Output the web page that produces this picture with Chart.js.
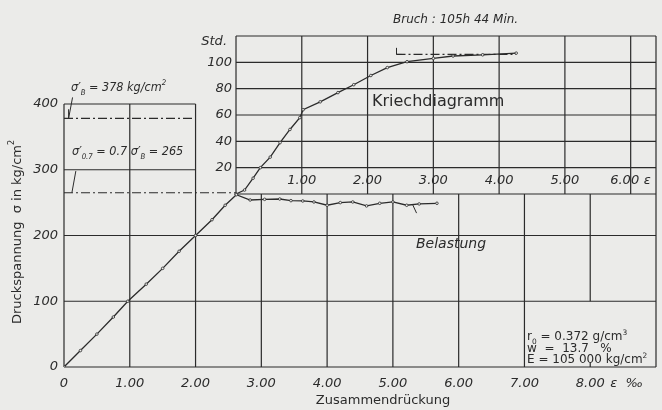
<!DOCTYPE html>
<html>
<head>
<meta charset="utf-8">
<script src="https://cdn.jsdelivr.net/npm/chart.js@4.4.1/dist/chart.umd.min.js"></script>
<style>
html, body { margin: 0; padding: 0; background: #ebebe9; }
#wrap { width: 662px; height: 410px; }
</style>
</head>
<body>
<div id="wrap"><canvas id="c" width="662" height="410"></canvas></div>
<script>
// Belastung: Zusammendrueckung (permille) / Druckspannung (kg/cm2)
const loadEps   = [0, 0.25, 0.5, 0.75, 0.97, 1.25, 1.5, 1.75, 2.0, 2.25, 2.45, 2.62, 2.83, 3.05, 3.28, 3.45, 3.63, 3.8, 4.0, 4.2, 4.39, 4.6, 4.8, 5.0, 5.21, 5.4, 5.67];
const loadSigma = [0, 25, 50, 76, 100, 126, 150, 176, 200, 224, 246, 262, 254, 255, 255.5, 253, 252.5, 251, 246, 250, 251, 245, 249, 251, 246, 248, 249];

// Kriechdiagramm: zusaetzliche Zusammendrueckung (permille) / Stunden
const creepEps   = [0, 0.13, 0.26, 0.37, 0.52, 0.67, 0.82, 0.97, 1.02, 1.28, 1.55, 1.79, 2.05, 2.3, 2.6, 3.0, 3.3, 3.75, 4.26];
const creepHours = [0, 3, 12, 20, 28, 39, 49, 58, 64, 70, 77, 83, 90, 96, 100.5, 103, 104.8, 105.7, 107];

const sigmaB = 378;
const sigma07 = 265;
const breakHours = 106;

const mainXTicks = [0, 1, 2, 3, 4, 5, 6, 7, 8];
const mainYTicks = [0, 100, 200, 300, 400];
const insetXTicks = [1, 2, 3, 4, 5, 6];
const insetYTicks = [20, 40, 60, 80, 100];

const INK = '#2b2b2b';
const PAPER = '#ebebe9';
const FONT = "'DejaVu Sans', sans-serif";
const FONT_C = "'DejaVu Sans Condensed', 'DejaVu Sans', sans-serif";

function pts(xs, ys) { return xs.map((x, i) => ({x: x, y: ys[i]})); }

// draw a line between two data points of a given pair of scales
function seg(ctx, sx, sy, x0, y0, x1, y1) {
    ctx.beginPath();
    ctx.moveTo(sx.getPixelForValue(x0), sy.getPixelForValue(y0));
    ctx.lineTo(sx.getPixelForValue(x1), sy.getPixelForValue(y1));
    ctx.stroke();
}

// rich text: parts = [[text, 'n'|'sub'|'sup'], ...]
function rich(ctx, parts, x, y, size, style, family) {
    let cx = x;
    for (const [t, kind] of parts) {
        const s = kind === 'n' ? size : size * 0.62;
        const dy = kind === 'sub' ? size * 0.3 : (kind === 'sup' ? -size * 0.45 : 0);
        ctx.font = (style || 'italic') + ' ' + s + 'px ' + (family || FONT);
        ctx.fillText(t, cx, y + dy);
        cx += ctx.measureText(t).width;
    }
}

const gridPlugin = {
    id: 'grid',
    beforeDatasetsDraw(chart) {
        const ctx = chart.ctx;
        const x = chart.scales.x, y = chart.scales.y;
        const x2 = chart.scales.x2, y2 = chart.scales.y2;
        const sigTop = y.getValueForPixel(y2.getPixelForValue(0));
        const epsEnd = x2.max;
        ctx.save();
        ctx.strokeStyle = INK;
        ctx.lineWidth = 1.2;
        // main diagram
        for (const e of [0, 1, 2]) seg(ctx, x, y, e, 0, e, 400);
        for (const e of [3, 4, 5, 6, 7]) seg(ctx, x, y, e, 0, e, sigTop);
        seg(ctx, x, y, 8, 100, 8, sigTop);
        seg(ctx, x, y, 8, 0, 8, 7);
        seg(ctx, x, y, 9, 0, 9, sigTop);
        for (const s of [0, 100, 200]) seg(ctx, x, y, 0, s, 9, s);
        for (const s of [300, 400]) seg(ctx, x, y, 0, s, 2, s);
        // inset (Kriechdiagramm)
        for (const e of [0, 1, 2, 3, 4, 5, 6, epsEnd]) seg(ctx, x2, y2, e, 0, e, 120);
        for (const h of [0, 20, 40, 60, 80, 100, 120]) seg(ctx, x2, y2, 0, h, epsEnd, h);
        ctx.restore();
    },
    afterDatasetsDraw(chart) {
        const ctx = chart.ctx;
        const x = chart.scales.x, y = chart.scales.y;
        const x2 = chart.scales.x2, y2 = chart.scales.y2;
        ctx.save();
        ctx.fillStyle = INK;
        ctx.strokeStyle = INK;
        ctx.lineWidth = 1;

        // main tick labels
        ctx.font = 'italic 13px ' + FONT;
        ctx.textBaseline = 'middle';
        ctx.textAlign = 'center';
        for (const t of mainXTicks) {
            ctx.fillText(t === 0 ? '0' : t.toFixed(2), x.getPixelForValue(t), 384);
        }
        ctx.textAlign = 'left';
        ctx.fillText('\u03b5  \u2030', x.getPixelForValue(8) + 20, 384);
        ctx.textAlign = 'right';
        for (const t of mainYTicks) {
            ctx.fillText(String(t), 58, y.getPixelForValue(t));
        }

        // inset tick labels
        ctx.textAlign = 'center';
        const iy = y2.getPixelForValue(0) - 13;
        for (const t of insetXTicks) {
            const px = x2.getPixelForValue(t) - (t === 6 ? 6 : 0);
            ctx.fillText(t.toFixed(2), px, iy);
        }
        ctx.textAlign = 'left';
        ctx.fillText('\u03b5', x2.getPixelForValue(6) + 13, iy);
        ctx.textAlign = 'right';
        for (const t of insetYTicks) {
            ctx.fillText(String(t), x2.getPixelForValue(0) - 4, y2.getPixelForValue(t));
        }
        ctx.fillText('Std.', x2.getPixelForValue(0) - 9, y2.getPixelForValue(116));

        // axis titles
        ctx.textAlign = 'center';
        ctx.font = '13px ' + FONT;
        ctx.fillText('Zusammendr\u00fcckung', 383, 401);
        ctx.save();
        ctx.translate(18, 232);
        ctx.rotate(-Math.PI / 2);
        ctx.textAlign = 'left';
        ctx.textBaseline = 'middle';
        const ttl = [['Druckspannung  \u03c3 in kg/cm', 'n'], ['2', 'sup']];
        ctx.font = '13px ' + FONT;
        let w = ctx.measureText(ttl[0][0]).width + 5;
        rich(ctx, ttl, -w / 2, 0, 13, 'normal');
        ctx.restore();

        // sigma_B annotation
        ctx.textAlign = 'left';
        ctx.textBaseline = 'alphabetic';
        rich(ctx, [['\u03c3\u2032', 'n'], ['B', 'sub'], [' = 378 kg/cm', 'n'], ['2', 'sup']], 71, 91, 12.5, 'italic', FONT_C);
        seg(ctx, x, y, 0.07, sigmaB, 0.13, 410);
        seg(ctx, x, y, 0.07, sigmaB, 0.07, 392);
        // sigma_0.7 annotation
        rich(ctx, [['\u03c3\u2032', 'n'], ['0.7', 'sub'], [' = 0.7 \u03c3\u2032', 'n'], ['B', 'sub'], [' = 265', 'n']], 72, 155, 12.5, 'italic', FONT_C);
        seg(ctx, x, y, 0.12, sigma07, 0.18, 298);

        // Bruch
        ctx.font = 'italic 12px ' + FONT;
        ctx.fillText('Bruch : 105h 44 Min.', 393, 23);
        seg(ctx, x2, y2, 2.44, breakHours, 2.44, 111);
        seg(ctx, x2, y2, 2.44, breakHours, 2.52, breakHours);

        // Kriechdiagramm label
        ctx.font = '16px ' + FONT;
        ctx.fillText('Kriechdiagramm', 372, 106);

        // Belastung
        ctx.font = 'italic 14px ' + FONT;
        ctx.fillText('Belastung', 416, 248);
        seg(ctx, x, y, 5.3, 247, 5.36, 234);

        // material data
        rich(ctx, [['r', 'n'], ['0', 'sub'], [' = 0.372 g/cm', 'n'], ['3', 'sup']], 527, 340, 12, 'normal');
        rich(ctx, [['w  =  13.7   %', 'n']], 527, 352, 12, 'normal');
        rich(ctx, [['E = 105 000 kg/cm', 'n'], ['2', 'sup']], 527, 363, 12, 'normal');
        ctx.restore();
    }
};

const markerStyle = {
    showLine: true,
    borderColor: INK,
    borderWidth: 1.3,
    pointRadius: 1.3,
    pointBackgroundColor: PAPER,
    pointBorderColor: INK,
    pointBorderWidth: 0.8
};
const dashStyle = {
    showLine: true,
    borderColor: INK,
    borderWidth: 1.2,
    borderDash: [9, 3, 2, 3],
    pointRadius: 0
};

new Chart(document.getElementById('c'), {
    type: 'scatter',
    data: {
        datasets: [
            Object.assign({ label: 'Belastung', data: pts(loadEps, loadSigma), xAxisID: 'x', yAxisID: 'y' }, markerStyle),
            Object.assign({ label: 'Kriechdiagramm', data: pts(creepEps, creepHours), xAxisID: 'x2', yAxisID: 'y2' }, markerStyle),
            Object.assign({ label: 'sigmaB', data: [{x: 0, y: sigmaB}, {x: 2, y: sigmaB}], xAxisID: 'x', yAxisID: 'y' }, dashStyle),
            Object.assign({ label: 'sigma07', data: [{x: 0, y: sigma07}, {x: 2.615, y: sigma07}], xAxisID: 'x', yAxisID: 'y' }, dashStyle),
            Object.assign({ label: 'Bruch', data: [{x: 2.44, y: breakHours}, {x: 4.26, y: breakHours}], xAxisID: 'x2', yAxisID: 'y2' }, dashStyle)
        ]
    },
    options: {
        responsive: false,
        animation: false,
        layout: { padding: { left: 64, right: 6, top: 36, bottom: 43 } },
        plugins: { legend: { display: false }, tooltip: { enabled: false } },
        scales: {
            x:  { type: 'linear', min: 0, max: 9, display: false },
            y:  { type: 'linear', min: 0, max: 503.4, display: false },
            x2: { type: 'linear', min: -2.615, max: 6.385, display: false },
            y2: { type: 'linear', min: -131.4, max: 120, display: false }
        }
    },
    plugins: [gridPlugin]
});
</script>
</body>
</html>
